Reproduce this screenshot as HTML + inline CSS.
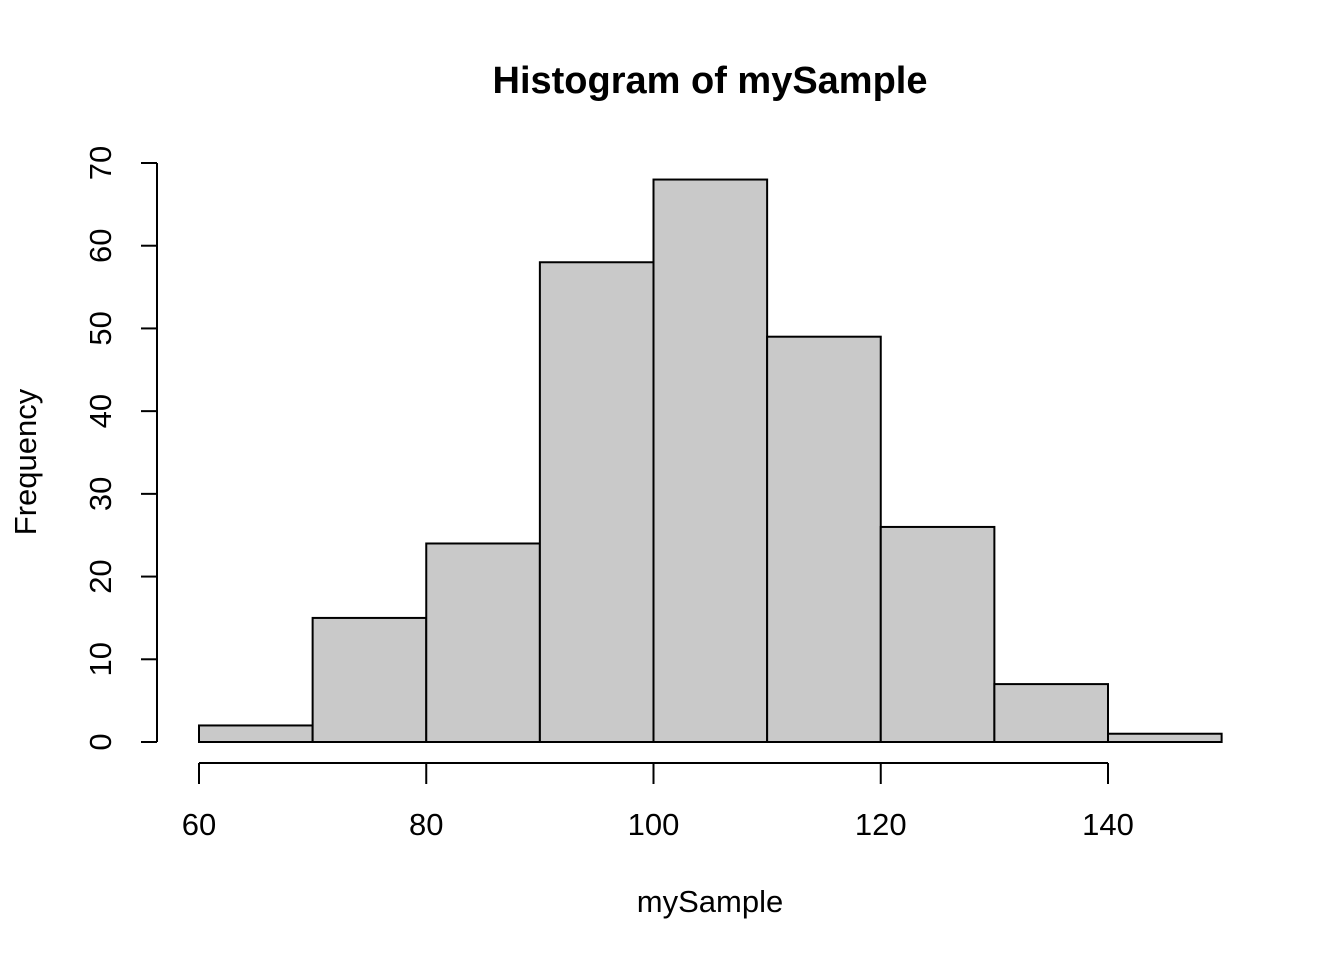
<!DOCTYPE html>
<html><head><meta charset="utf-8"><style>
html,body{margin:0;padding:0;background:#fff;}
svg{display:block;font-family:"Liberation Sans",Arial,sans-serif;}
</style></head><body>
<svg id="chart" width="1344" height="960" viewBox="0 0 1344 960">
<text x="710" y="93" text-anchor="middle" font-size="38" font-weight="bold">Histogram of mySample</text>
<text x="710" y="912" text-anchor="middle" font-size="31">mySample</text>
<text transform="translate(36,462) rotate(-90)" text-anchor="middle" font-size="31">Frequency</text>
<g id="bars"></g>
<g id="xaxis"></g>
<g id="yaxis"></g>
</svg>
<script>
const binStarts = [60,70,80,90,100,110,120,130,140];
const binWidth = 10;
const counts = [2,15,24,58,68,49,26,7,1];
const xTicks = [60,80,100,120,140];
const yTicks = [0,10,20,30,40,50,60,70];
const NS="http://www.w3.org/2000/svg";
function xs(v){return 199+(v-60)*(1108-199)/80;}
function ys(v){return 742-v*(742-163)/70;}
function mk(tag,attrs,parent){const e=document.createElementNS(NS,tag);for(const k in attrs)e.setAttribute(k,attrs[k]);parent.appendChild(e);return e;}
const bars=document.getElementById('bars');
binStarts.forEach((s,i)=>{
  const x0=xs(s),x1=xs(s+binWidth),y=ys(counts[i]);
  const r=mk('rect',{x:x0,y:y,width:x1-x0,height:ys(0)-y,fill:'#c9c9c9',stroke:'#000','stroke-width':2},bars);
  
  
});
const xa=document.getElementById('xaxis');
mk('line',{x1:xs(xTicks[0]),x2:xs(xTicks[xTicks.length-1]),y1:763,y2:763,stroke:'#000','stroke-width':2},xa);
xTicks.forEach(t=>{
  mk('line',{x1:xs(t),x2:xs(t),y1:763,y2:784,stroke:'#000','stroke-width':2},xa);
  const tx=mk('text',{x:xs(t),y:835,'text-anchor':'middle','font-size':31},xa);
  tx.textContent=t;
  
  
});
const ya=document.getElementById('yaxis');
mk('line',{x1:157,x2:157,y1:ys(yTicks[0]),y2:ys(yTicks[yTicks.length-1]),stroke:'#000','stroke-width':2},ya);
yTicks.forEach(t=>{
  mk('line',{x1:141,x2:157,y1:ys(t),y2:ys(t),stroke:'#000','stroke-width':2},ya);
  const tx=mk('text',{transform:'translate(111,'+ys(t)+') rotate(-90)','text-anchor':'middle','font-size':31},ya);
  tx.textContent=t;
  
  
});
</script>
</body></html>
